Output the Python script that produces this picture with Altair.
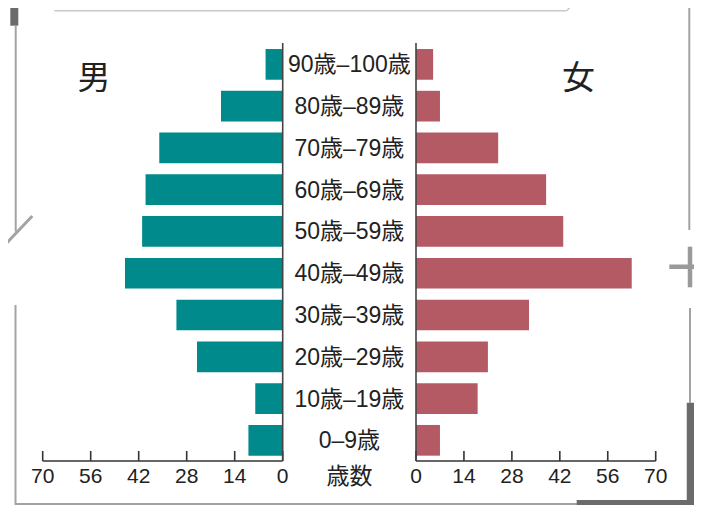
import altair as alt
import pandas as pd

ages = ["90歳–100歳", "80歳–89歳", "70歳–79歳", "60歳–69歳", "50歳–59歳",
        "40歳–49歳", "30歳–39歳", "20歳–29歳", "10歳–19歳", "0–9歳"]
male = [5, 18, 36, 40, 41, 46, 31, 25, 8, 10]
female = [5, 7, 24, 38, 43, 63, 33, 21, 18, 7]
tick_values = [0, 14, 28, 42, 56, 70]
left_label = "男"
right_label = "女"
axis_caption = "歳数"

TEAL = "#008A8B"
ROSE = "#B35A64"
TXT = "#222222"
AX = "#333333"
FONT = "Liberation Sans, Noto Sans CJK JP, sans-serif"

df = pd.DataFrame({"age": ages, "male": male, "female": female})
ticks_df = pd.DataFrame({"v": tick_values})
span_df = pd.DataFrame({"a": [min(tick_values)], "b": [max(tick_values)]})

yscale = alt.Scale(domain=ages, range=[35.5, 453.2], paddingInner=0.265, paddingOuter=0.1325)
lscale = alt.Scale(domain=[0, 70], range=[274.7, 34.7], nice=False, zero=True)
rscale = alt.Scale(domain=[0, 70], range=[408, 647.7], nice=False, zero=True)


def side(field, scale, color):
    bars = alt.Chart(df).mark_bar(color=color).encode(
        y=alt.Y("age:N", scale=yscale, axis=None, sort=ages),
        x=alt.X(f"{field}:Q", scale=scale, axis=None),
    )
    ticks = alt.Chart(ticks_df).mark_rule(color=AX, strokeWidth=1.6).encode(
        x=alt.X("v:Q", scale=scale, axis=None),
        y=alt.value(443), y2=alt.value(453),
    )
    tick_labels = alt.Chart(ticks_df).mark_text(
        font=FONT, fontSize=21, color=TXT, align="center", baseline="middle"
    ).encode(
        x=alt.X("v:Q", scale=scale, axis=None),
        y=alt.value(469),
        text="v:Q",
    )
    baseline = alt.Chart(span_df).mark_rule(color=AX, strokeWidth=1.6).encode(
        x=alt.X("a:Q", scale=scale, axis=None),
        x2="b:Q",
        y=alt.value(453),
    )
    vline = alt.Chart(ticks_df.head(1)).mark_rule(color="#444444", strokeWidth=1.6).encode(
        x=alt.X("v:Q", scale=scale, axis=None),
        y=alt.value(35), y2=alt.value(453),
    )
    return alt.layer(bars, ticks, tick_labels, baseline, vline)


left = side("male", lscale, TEAL)
right = side("female", rscale, ROSE)

labels = alt.Chart(df).mark_text(font=FONT, fontSize=23, color=TXT, align="center",
                                 baseline="middle", dy=1).encode(
    y=alt.Y("age:N", scale=yscale, axis=None, sort=ages),
    x=alt.value(341.4),
    text="age:N",
)

one = pd.DataFrame({"t": [axis_caption]})
caption = alt.Chart(one).mark_text(font=FONT, fontSize=23, color=TXT, align="center",
                                   baseline="middle").encode(
    x=alt.value(341.4), y=alt.value(469), text="t:N")

sex_df = pd.DataFrame({"t": [left_label]})
sex_df2 = pd.DataFrame({"t": [right_label]})
man = alt.Chart(sex_df).mark_text(font="Noto Sans CJK JP", fontSize=33, color=TXT,
                                  align="center", baseline="middle").encode(
    x=alt.value(86), y=alt.value(71), text="t:N")
woman = alt.Chart(sex_df2).mark_text(font="Noto Sans CJK JP", fontSize=33, color=TXT,
                                     align="center", baseline="middle").encode(
    x=alt.value(570.5), y=alt.value(71), text="t:N")


def seg(x1, y1, x2, y2, color, width):
    return alt.Chart(one).mark_rule(color=color, strokeWidth=width).encode(
        x=alt.value(x1), y=alt.value(y1), x2=alt.value(x2), y2=alt.value(y2))


LIGHT = "#A3A3A5"
DARK = "#6B6B6E"
decor = [
    seg(46.3, 2.7, 558.7, 2.7, "#C8C8C8", 1.5),
    seg(558.7, 2.7, 569, -8, "#C8C8C8", 1.5),
    seg(6.3, -8, 6.3, 17.7, DARK, 8),
    seg(7.7, 17.7, 7.7, 223.7, LIGHT, 2),
    seg(-8, 242, 24.3, 208, LIGHT, 3),
    seg(7.5, 297, 7.5, 497, LIGHT, 2),
    seg(7, 496, 569, 496, LIGHT, 2),
    seg(568.7, 494.5, 686, 494.5, DARK, 5),
    seg(682.5, 394.7, 682.5, 497, DARK, 7.5),
    seg(682, 300, 682, 395, LIGHT, 2),
    seg(681.3, -8, 681.3, 222, LIGHT, 2),
    seg(661.3, 258.7, 694, 258.7, "#9A9A9A", 4.5),
    seg(682, 238.7, 682, 279.3, "#9A9A9A", 4.5),
]

chart = alt.layer(left, right, labels, caption, man, woman, *decor).resolve_scale(
    x="independent"
).properties(
    width=686, height=453,
    autosize=alt.AutoSizeParams(type="none"),
    padding={"left": 0, "top": 0, "right": 0, "bottom": 44},
    background="white",
).configure_view(stroke=None)

chart.save("out.html", embed_options={"renderer": "svg", "actions": False})
